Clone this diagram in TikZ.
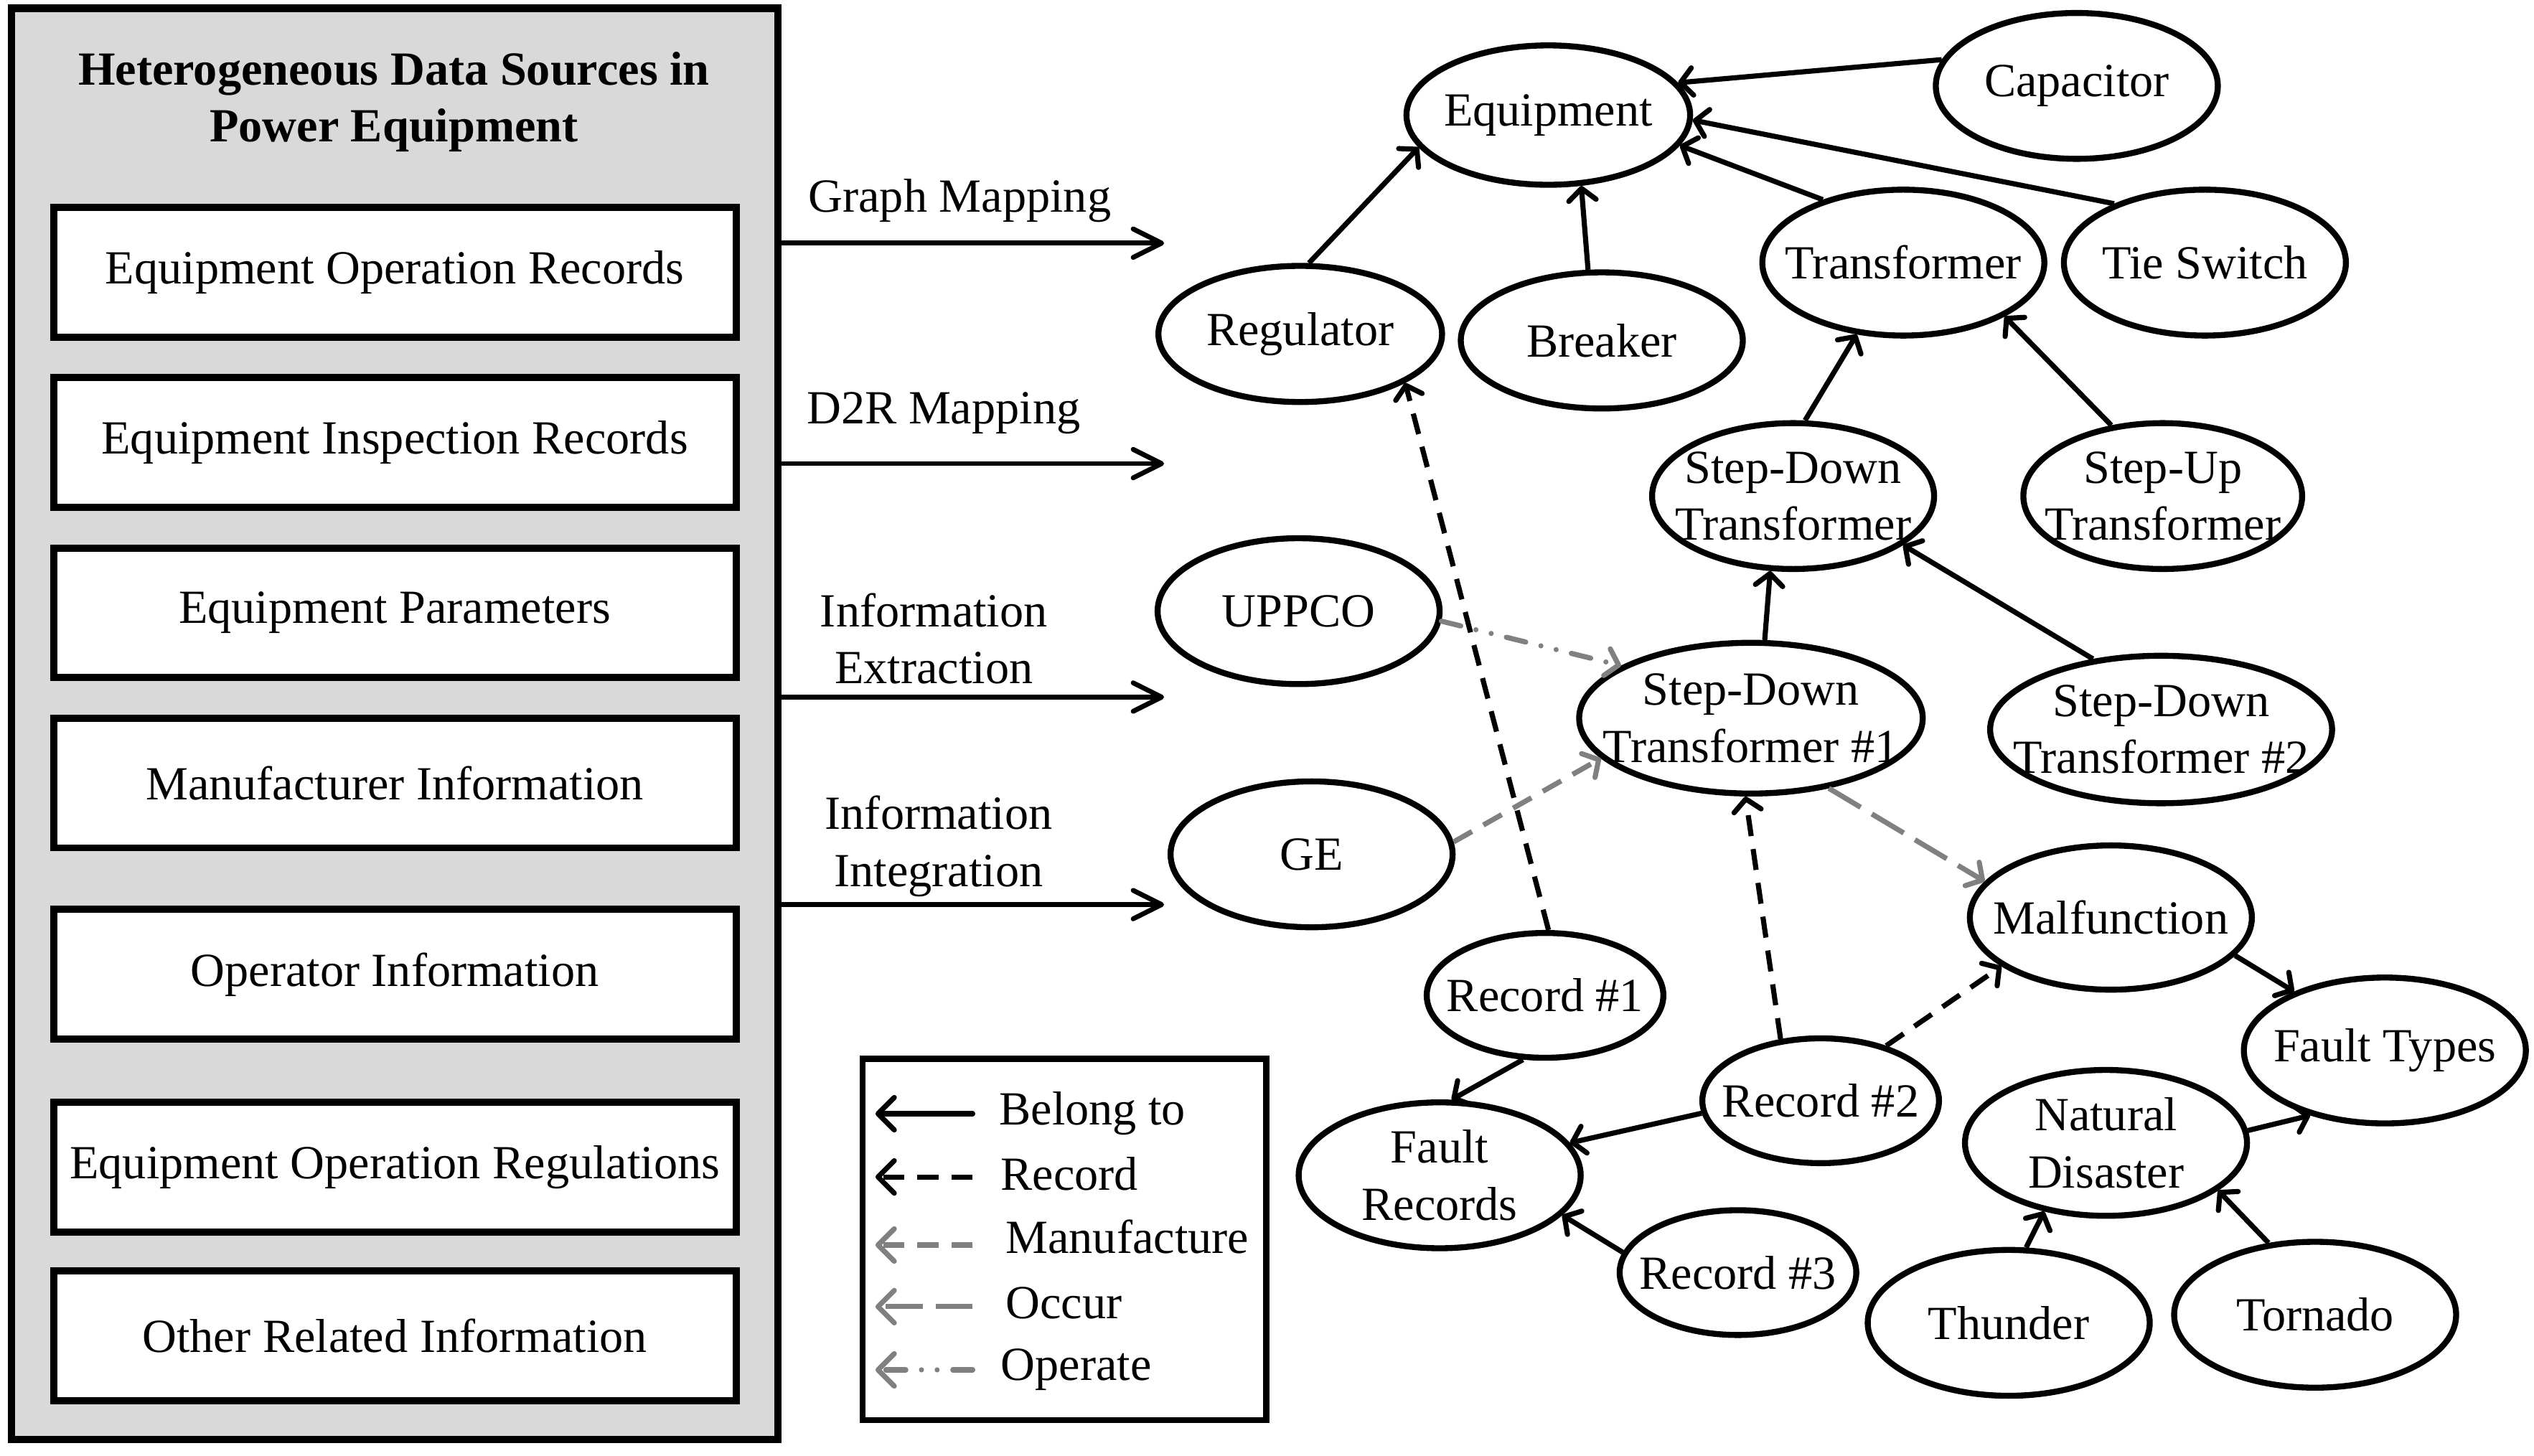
\documentclass[tikz,border=0pt]{standalone}
\usepackage{fontspec}
\setmainfont{Liberation Serif}
\usetikzlibrary{arrows.meta,shapes.geometric}
\definecolor{panelgray}{RGB}{217,217,217}
\definecolor{edgegray}{RGB}{128,128,128}
\begin{document}
\begin{tikzpicture}[x=0.02cm,y=-0.02cm,
  every node/.style={font=\fontsize{16.7}{20}\selectfont},
  ell/.style={ellipse,draw,line width=2.1pt,fill=white,inner sep=0pt,
    minimum width=3.48cm,minimum height=1.8cm},
  txt/.style={align=center,inner sep=0pt},
  tip/.style={-{Straight Barb[length=4.2pt,width=9.6pt,round]}},
  belong/.style={tip,line width=1.8pt},
  rec/.style={tip,line width=1.8pt,dash pattern=on 7.4pt off 4.6pt},
  manuf/.style={tip,line width=1.8pt,draw=edgegray,dash pattern=on 7.4pt off 4.6pt},
  occur/.style={tip,line width=1.8pt,draw=edgegray,dash pattern=on 13pt off 4.6pt},
  operate/.style={tip,line width=1.8pt,draw=edgegray,line cap=round,
    dash pattern=on 7pt off 5.5pt on 0pt off 5.5pt on 0pt off 5.5pt},
  legtip/.style={-{Straight Barb[length=5.7pt,width=11.4pt,round]}},
  mapar/.style={-{Straight Barb[length=10pt,width=10pt,round]},line width=1.7pt},
  srcbox/.style={draw,fill=white,line width=2.5pt,minimum width=8.42cm,
    minimum height=1.6cm,inner sep=0pt},
  legtxt/.style={anchor=west,inner sep=0pt}
]
\useasboundingbox (0,0) rectangle (1563,898);

% ---------- left panel ----------
\node[draw,line width=2.6pt,fill=panelgray,minimum width=9.46cm,
  minimum height=17.66cm,inner sep=0pt] (panel) at (243.5,446.5) {};
\node[txt,font=\fontsize{16.7}{20}\selectfont\bfseries] (title) at (243,63)
  {Heterogeneous Data Sources in\\Power Equipment};
\node[srcbox] (s1) at (243.5,168) {Equipment Operation Records};
\node[srcbox] (s2) at (243.5,273) {Equipment Inspection Records};
\node[srcbox] (s3) at (243.5,378) {Equipment Parameters};
\node[srcbox] (s4) at (243.5,483) {Manufacturer Information};
\node[srcbox] (s5) at (243.5,601) {Operator Information};
\node[srcbox] (s6) at (243.5,720) {Equipment Operation Regulations};
\node[srcbox] (s7) at (243.5,824) {Other Related Information};

% ---------- mapping arrows ----------
\coordinate (m1) at (718,150);
\coordinate (m2) at (718,286);
\coordinate (m3) at (718,430);
\coordinate (m4) at (718,558);
\draw[mapar] (panel.east |- m1) -- (m1);
\draw[mapar] (panel.east |- m2) -- (m2);
\draw[mapar] (panel.east |- m3) -- (m3);
\draw[mapar] (panel.east |- m4) -- (m4);
\node[txt] (ml1) at (592,124) {Graph Mapping};
\node[txt] (ml2) at (582,255) {D2R Mapping};
\node[txt] (ml3) at (576,394) {Information\\Extraction};
\node[txt] (ml4) at (579,522) {Information\\Integration};

% ---------- graph nodes ----------
\node[ell,minimum width=3.5cm,minimum height=1.72cm,label={[txt]center:Equipment}] (equip) at (955,71) {};
\node[ell,label={[txt]center:Capacitor}] (cap) at (1281,53) {};
\node[ell,minimum width=3.5cm,minimum height=1.68cm,label={[txt]center:Regulator}] (reg) at (802,206) {};
\node[ell,minimum height=1.68cm,label={[txt]center:Breaker}] (brk) at (988,210) {};
\node[ell,label={[txt]center:Transformer}] (trans) at (1174,162) {};
\node[ell,label={[txt]center:Tie Switch}] (tie) at (1360,162) {};
\node[ell,label={[txt]center:{Step-Down\\Transformer}}] (sd) at (1106,306) {};
\node[ell,minimum width=3.44cm,label={[txt]center:{Step-Up\\Transformer}}] (su) at (1334,306) {};
\node[ell,label={[txt]center:UPPCO}] (uppco) at (801,377) {};
\node[ell,minimum width=4.24cm,minimum height=1.86cm,label={[txt]center:{Step-Down\\Transformer \#1}}] (sd1) at (1080,443) {};
\node[ell,minimum width=4.22cm,minimum height=1.82cm,label={[txt]center:{Step-Down\\Transformer \#2}}] (sd2) at (1333,450) {};
\node[ell,label={[txt]center:GE}] (ge) at (809,527) {};
\node[ell,minimum height=1.78cm,label={[txt]center:Malfunction}] (mal) at (1302,566) {};
\node[ell,minimum width=2.92cm,minimum height=1.54cm,label={[txt]center:Record \#1}] (r1) at (953,614) {};
\node[ell,label={[txt]center:Fault Types}] (ft) at (1471,648) {};
\node[ell,minimum width=2.92cm,minimum height=1.54cm,label={[txt]center:Record \#2}] (r2) at (1123,679) {};
\node[ell,label={[txt]center:{Natural\\Disaster}}] (nd) at (1299,705) {};
\node[ell,label={[txt]center:{Fault\\Records}}] (fr) at (888,725) {};
\node[ell,minimum width=2.92cm,minimum height=1.54cm,label={[txt]center:Record \#3}] (r3) at (1072,785) {};
\node[ell,label={[txt]center:Thunder}] (thu) at (1239,816) {};
\node[ell,label={[txt]center:Tornado}] (tor) at (1428,811) {};

% ---------- belong to ----------
\draw[belong] (cap.169) -- (equip.14);
\draw[belong] (tie.147) -- (equip.-2);
\draw[belong] (trans.142) -- (equip.-13);
\draw[belong] (reg.83) -- (equip.-166);
\draw[belong] (brk.101) -- (equip.-65);
\draw[belong] (sd.81) -- (trans.-123);
\draw[belong] (su.126) -- (trans.-28);
\draw[belong] (sd1.80) -- (sd.-107);
\draw[belong] (sd2.134) -- (sd.-24);
\draw[belong] (mal.-17) -- (ft.147);
\draw[belong] (nd.5) -- (ft.-139);
\draw[belong] (thu.77) -- (nd.-132);
\draw[belong] (tor.123) -- (nd.-23);
\draw[belong] (r1.-109) -- (fr.81);
\draw[belong] (r2.-174) -- (fr.14);
\draw[belong] (r3.170) -- (fr.-18);
% ---------- record ----------
\draw[rec] (r1.87) -- (reg.-25);
\draw[rec] (r2.123) -- (sd1.-94);
\draw[rec] (r2.40) -- (mal.-156);
% ---------- manufacture / occur / operate ----------
\draw[manuf] (ge.5) -- (sd1.-165);
\draw[occur] (sd1.-42) -- (mal.164);
\draw[operate] (uppco.-4) -- (sd1.158);

% ---------- legend ----------
\node[draw,line width=2.2pt,minimum width=4.98cm,minimum height=4.46cm,inner sep=0pt] (leg) at (656.5,764.5) {};
\coordinate (la1) at (600,687); \coordinate (lb1) at (540,687);
\coordinate (la2) at (600,726); \coordinate (lb2) at (540,726);
\coordinate (la3) at (600,768); \coordinate (lb3) at (540,768);
\coordinate (la4) at (600,806); \coordinate (lb4) at (540,806);
\coordinate (la5) at (600,845); \coordinate (lb5) at (540,845);
\draw[belong,legtip,line cap=round] (la1) -- (lb1);
\draw[rec,legtip] (la2) -- (lb2);
\draw[manuf,legtip] (la3) -- (lb3);
\draw[occur,legtip] (la4) -- (lb4);
\draw[operate,legtip] (la5) -- (lb5);
\node[legtxt] (lt1) at (616,687) {Belong to};
\node[legtxt] (lt2) at (617,724) {Record};
\node[legtxt] (lt3) at (620,763) {Manufacture};
\node[legtxt] (lt4) at (620,804) {Occur};
\node[legtxt] (lt5) at (617,845) {Operate};
\end{tikzpicture}
\end{document}
